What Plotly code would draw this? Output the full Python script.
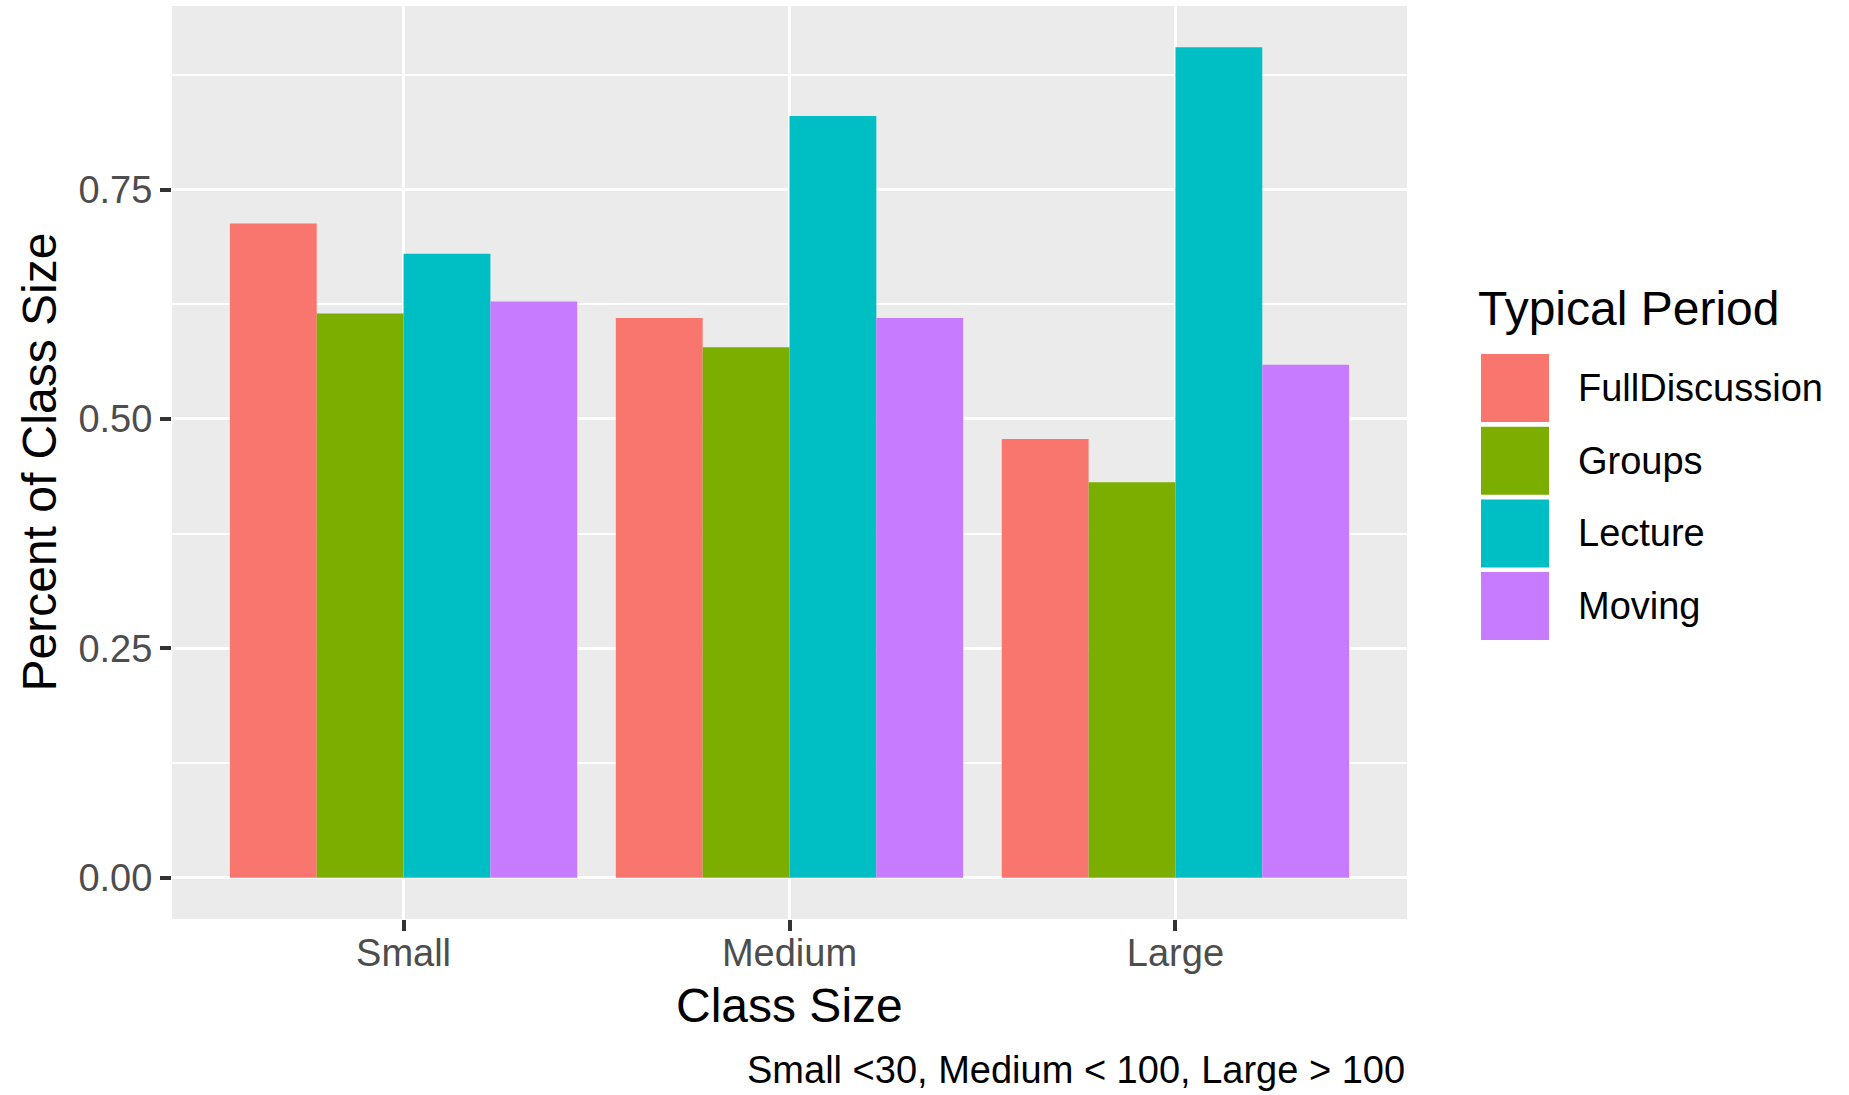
import plotly.graph_objects as go

# ---- data ----
categories = ["Small", "Medium", "Large"]
series_names = ["FullDiscussion", "Groups", "Lecture", "Moving"]
full_discussion = [0.713, 0.610, 0.478]
groups = [0.615, 0.578, 0.431]
lecture = [0.680, 0.830, 0.905]
moving = [0.628, 0.610, 0.559]
y_tick_vals = [0.0, 0.25, 0.5, 0.75]
y_tick_text = ["0.00", "0.25", "0.50", "0.75"]
colors = ["#F8766D", "#7CAE00", "#00BFC4", "#C77CFF"]
series_values = [full_discussion, groups, lecture, moving]

W, H = 1849, 1095
L, R, T, B = 172, 1407, 6, 919  # panel in pixels
FONT = "Arial, Liberation Sans, sans-serif"


def px(x):
    return (x - L) / (R - L)


def py(y):
    return (B - y) / (B - T)


fig = go.Figure()
for name, vals, col in zip(series_names, series_values, colors):
    fig.add_trace(go.Bar(x=categories, y=vals, name=name, marker_color=col,
                         marker_line_width=0, showlegend=False))

shapes = []
annotations = []

# manual legend (ggplot style keys)
annotations.append(dict(text="Typical Period", x=px(1476), y=py(308), xref="paper", yref="paper",
                        xanchor="left", yanchor="middle", showarrow=False,
                        font=dict(family=FONT, size=48, color="black")))
key_top0, key_h, key_step = 354, 68, 72.7
for i, (name, col) in enumerate(zip(series_names, colors)):
    top = key_top0 + i * key_step
    shapes.append(dict(type="rect", xref="paper", yref="paper",
                       x0=px(1481), x1=px(1549), y0=py(top + key_h), y1=py(top),
                       fillcolor=col, line_width=0, layer="above"))
    annotations.append(dict(text=name, x=px(1576), y=py(top + key_h / 2), xref="paper", yref="paper",
                            xanchor="left", yanchor="middle", showarrow=False,
                            font=dict(family=FONT, size=38, color="black")))

# axis titles and caption
annotations.append(dict(text="Class Size", x=px((L + R) / 2), y=py(1005), xref="paper", yref="paper",
                        xanchor="center", yanchor="middle", showarrow=False,
                        font=dict(family=FONT, size=48, color="black")))
annotations.append(dict(text="Percent of Class Size", x=px(39), y=py((T + B) / 2), xref="paper",
                        yref="paper", xanchor="center", yanchor="middle", textangle=-90,
                        showarrow=False, font=dict(family=FONT, size=48, color="black")))
annotations.append(dict(text="Small <30, Medium < 100, Large > 100", x=1, y=py(1070), xref="paper",
                        yref="paper", xanchor="right", yanchor="middle", showarrow=False,
                        font=dict(family=FONT, size=38, color="black")))

fig.update_layout(
    width=W, height=H,
    margin=dict(l=L, r=W - R, t=T, b=H - B, autoexpand=False),
    paper_bgcolor="white", plot_bgcolor="#EBEBEB",
    barmode="group", bargap=0.1, bargroupgap=0,
    font=dict(family=FONT),
    shapes=shapes, annotations=annotations,
    showlegend=False,
)
fig.update_xaxes(range=[-0.6, 2.6], showgrid=True, gridcolor="white", gridwidth=3.3,
                 ticks="outside", ticklen=11, tickwidth=3.5, tickcolor="#333333",
                 ticklabelstandoff=-11,
                 tickfont=dict(family=FONT, size=38, color="#4D4D4D"),
                 showline=False, zeroline=False, automargin=False)
fig.update_yaxes(range=[-0.045, 0.95], tickmode="array", tickvals=y_tick_vals, ticktext=y_tick_text,
                 showgrid=True, gridcolor="white", gridwidth=3.3,
                 minor=dict(dtick=0.125, tick0=0, showgrid=True, gridcolor="white", gridwidth=1.6),
                 ticks="outside", ticklen=11, tickwidth=3.5, tickcolor="#333333",
                 tickfont=dict(family=FONT, size=38, color="#4D4D4D"),
                 showline=False, zeroline=False, automargin=False)

fig.write_html("out.html", config={"displayModeBar": False},
               post_script="document.body.style.margin='0px';")
